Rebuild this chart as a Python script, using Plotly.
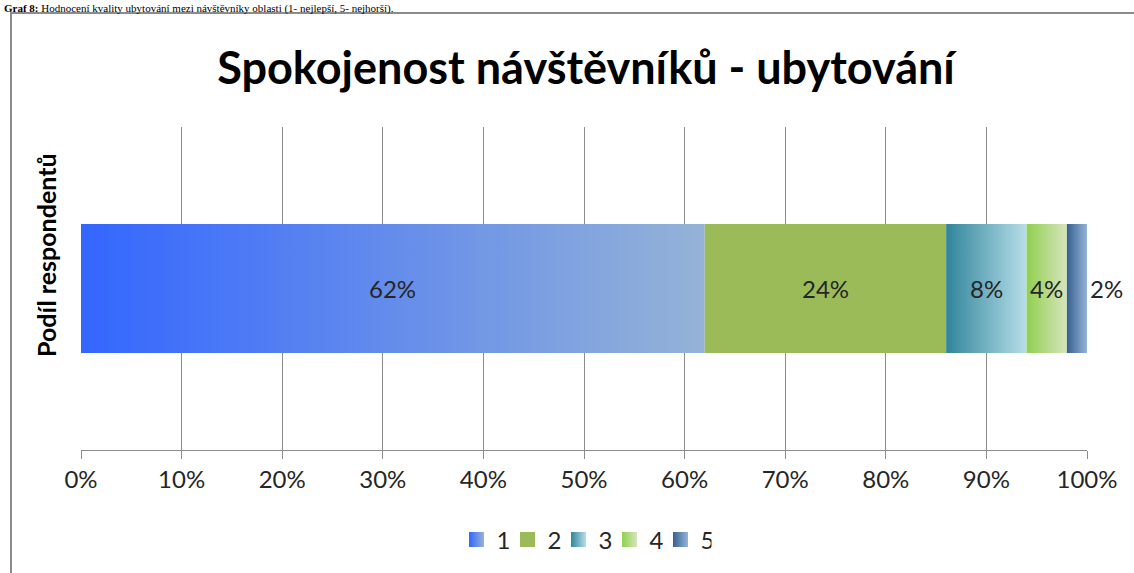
import plotly.graph_objects as go

categories = ["1", "2", "3", "4", "5"]
values = [62, 24, 8, 4, 2]
labels = ["62%", "24%", "8%", "4%", "2%"]
grad_left = ["#3366FF", "#9BBB59", "#31859C", "#92D050", "#376092"]
grad_right = ["#95B3D7", "#9BBB59", "#B7DEE8", "#D7E4BD", "#95B3D7"]
tick_vals = list(range(0, 101, 10))
tick_text = [f"{v}%" for v in tick_vals]
title_text = "Spokojenost návštěvníků - ubytování"
y_title = "Podíl respondentů"
caption = "<b>Graf 8:</b> Hodnocení kvality ubytování mezi návštěvníky oblasti (1- nejlepší, 5- nejhorší)."

W, H = 1134, 573
L, R, T, B = 81, 47, 127, 123
pw, ph = W - L - R, H - T - B

def px2x(px):
    return (px - L) / pw

def px2y(py):
    return (H - B - py) / ph

FONT = "Lato"
fig = go.Figure()
half = 0.2
start = 0
for cat, v, c0, c1 in zip(categories, values, grad_left, grad_right):
    x0, x1 = start, start + v
    fig.add_trace(go.Scatter(
        x=[x0, x1, x1, x0, x0], y=[-half, -half, half, half, -half],
        mode="none", fill="toself", name=cat, showlegend=False,
        fillcolor=c0,
        fillgradient=dict(type="horizontal", colorscale=[[0, c0], [1, c1]]),
        hoverinfo="skip",
    ))
    start = x1

# legend entries with gradient squares
for cat, c0, c1 in zip(categories, grad_left, grad_right):
    fig.add_trace(go.Scatter(
        x=[None], y=[None], mode="markers", name=cat,
        marker=dict(symbol="square", size=15, color=c0,
                    gradient=dict(type="horizontal", color=c1),
                    line=dict(width=0)),
    ))

start = 0
for i, (v, lab) in enumerate(zip(values, labels)):
    mid = start + v / 2
    fig.add_annotation(x=mid, y=0, text=lab, showarrow=False,
                       xshift=30 if i == len(values) - 1 else 0,
                       font=dict(size=24, color="#262626", family=FONT))
    start += v

# chart area border
fig.add_shape(type="rect", xref="paper", yref="paper",
              x0=px2x(11), x1=px2x(1145), y0=px2y(590), y1=px2y(13),
              line=dict(color="#8C8C8C", width=2), fillcolor="rgba(0,0,0,0)", layer="below")

fig.add_annotation(xref="paper", yref="paper", x=px2x(2), y=px2y(0),
                   xanchor="left", yanchor="top", showarrow=False,
                   text=caption,
                   font=dict(size=11, color="#000000", family="Liberation Serif"))

# y-axis title
fig.add_annotation(xref="paper", yref="paper", x=px2x(46), y=px2y(255),
                   xanchor="center", yanchor="middle", showarrow=False,
                   textangle=-90, text=f"<b>{y_title}</b>",
                   font=dict(size=25, color="#000000", family=FONT))

fig.update_layout(
    width=W, height=H,
    margin=dict(l=L, r=R, t=T, b=B, autoexpand=False),
    paper_bgcolor="white", plot_bgcolor="white",
    title=dict(text=f"<b>{title_text}</b>", x=586 / W, xanchor="center",
               y=1 - 68 / H, yanchor="middle",
               font=dict(size=45, color="#000000", family=FONT)),
    xaxis=dict(range=[0, 100], tickvals=tick_vals, ticktext=tick_text,
               showgrid=True, gridcolor="#8C8C8C", gridwidth=1,
               showline=True, linecolor="#8C8C8C", linewidth=1,
               ticks="outside", ticklen=8, tickcolor="#8C8C8C",
               tickfont=dict(size=24, color="#262626", family=FONT),
               zeroline=False, fixedrange=True, automargin=False),
    yaxis=dict(range=[-0.5, 0.5], showticklabels=False, showgrid=False,
               zeroline=False, showline=False, fixedrange=True, automargin=False),
    legend=dict(orientation="h", x=px2x(584), xanchor="center",
                y=px2y(540), yanchor="middle",
                font=dict(size=24, color="#262626", family=FONT),
                itemwidth=30, entrywidth=6, entrywidthmode="pixels"),
    showlegend=True,
)

fig.write_html("out.html", config={"displayModeBar": False},
               post_script="document.body.style.margin='0';")
